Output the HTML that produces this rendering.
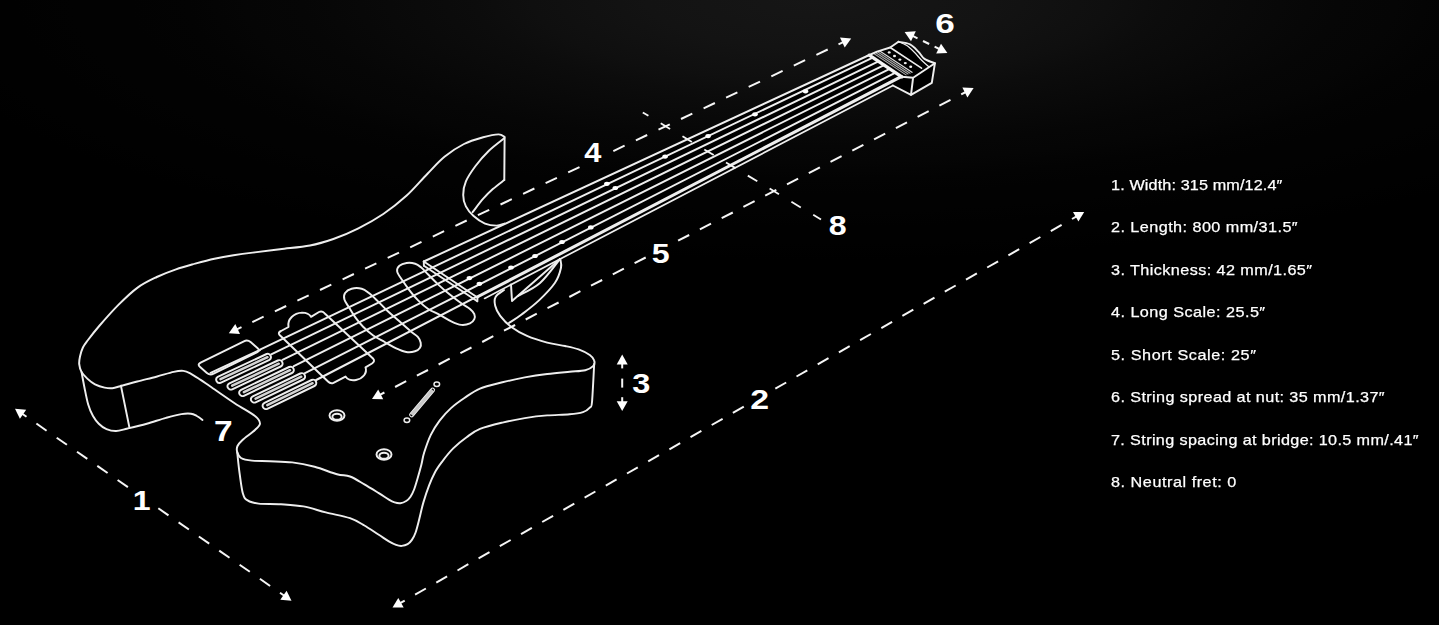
<!DOCTYPE html>
<html><head><meta charset="utf-8"><title>Dimensions</title>
<style>
html,body{margin:0;padding:0;background:#000;}
body{width:1439px;height:625px;overflow:hidden;position:relative;font-family:"Liberation Sans",sans-serif;
background:radial-gradient(ellipse 1150px 325px at 820px 0px,rgb(22,22,22) 0%,rgb(21,21,21) 5%,rgb(20,20,20) 10%,rgb(19,19,19) 15%,rgb(17,17,17) 20%,rgb(15,15,15) 25%,rgb(12,12,12) 30%,rgb(10,10,10) 35%,rgb(8,8,8) 40%,rgb(6,6,6) 45%,rgb(5,5,5) 50%,rgb(3,3,3) 55%,rgb(2,2,2) 60%,rgb(2,2,2) 65%,rgb(1,1,1) 70%,rgb(1,1,1) 75%,rgb(0,0,0) 80%,rgb(0,0,0) 85%,rgb(0,0,0) 90%,rgb(0,0,0) 95%,rgb(0,0,0) 100%);}
svg{position:absolute;left:0;top:0;}
.num{position:absolute;color:#fff;font-weight:bold;font-size:27px;line-height:27px;width:40px;margin-left:-20px;margin-top:-14px;text-align:center;transform:scaleX(1.1);}
.leg{position:absolute;left:1111px;color:#fff;-webkit-text-stroke:0.25px #fff;font-size:15px;line-height:20px;white-space:nowrap;transform:scaleX(1.08);transform-origin:0 50%;}
</style></head><body>
<svg width="1439" height="625" viewBox="0 0 1439 625">
<defs><filter id="b" x="-5%" y="-5%" width="110%" height="110%"><feGaussianBlur stdDeviation="0.42"/></filter></defs>
<g filter="url(#b)">
<g fill="none" stroke="#eeeeee" stroke-width="1.95" stroke-linecap="round" stroke-linejoin="round">
<path d="M423.75 261.5 L867.2 56 L877 51.6 L890.2 47.5 L898.5 41.8 L912 45 L924.5 58.5 L934.9 63.3 L931.8 82.9 L911 94.8 L892.9 85.5 L484.6 298.4 L477 300.5 L423.75 265Z" fill="#000" stroke="none"/>
<path d="M504.5 137.0 C503.5 136.6 502.1 134.3 498.5 134.4 C494.9 134.5 488.9 135.7 483.1 137.3 C477.4 138.9 470.4 140.8 464.0 144.0 C457.6 147.2 450.9 151.6 444.8 156.5 C438.7 161.4 433.9 167.1 427.5 173.7 C421.1 180.2 413.8 189.1 406.4 195.8 C399.0 202.5 391.3 208.6 383.3 214.0 C375.3 219.4 366.7 224.2 358.4 228.4 C350.1 232.6 341.5 236.2 333.4 239.0 C325.3 241.8 318.9 243.8 310.0 245.5 C301.1 247.2 289.6 248.0 280.0 249.2 C270.4 250.4 260.4 251.6 252.7 252.6 C244.9 253.6 239.9 254.3 233.5 255.3 C227.1 256.3 220.8 257.4 214.4 258.8 C208.0 260.2 201.6 261.9 195.2 263.6 C188.8 265.4 182.4 267.1 176.0 269.3 C169.6 271.5 163.2 273.9 156.8 277.0 C150.4 280.1 144.0 283.0 137.6 287.6 C131.2 292.2 124.8 298.5 118.4 304.9 C112.0 311.3 104.3 320.1 99.2 326.0 C94.1 331.9 90.7 336.4 88.0 340.0 C85.3 343.6 84.2 344.8 82.9 347.5 C81.6 350.2 80.6 353.7 80.0 356.5 C79.4 359.3 79.0 361.6 79.2 364.2 C79.5 366.8 80.2 369.5 81.5 371.9 C82.8 374.3 85.0 376.5 87.3 378.6 C89.5 380.7 92.1 382.8 95.0 384.3 C97.9 385.8 101.7 387.0 104.6 387.6 C107.5 388.2 109.4 388.5 112.3 388.2 C115.2 387.9 117.8 386.8 121.9 385.7 C126.1 384.6 131.4 383.0 137.2 381.5 C142.9 380.0 150.3 378.3 156.4 376.7 C162.5 375.1 169.2 372.9 173.7 371.9 C178.2 370.9 180.4 370.6 183.3 370.9 C186.2 371.2 188.1 372.3 191.0 373.8 C193.9 375.3 197.4 377.8 200.6 379.9 C203.8 382.0 204.3 382.4 210.0 386.3 C215.7 390.2 227.5 398.6 235.0 403.5 C242.5 408.4 250.8 412.7 255.0 416.0 C259.2 419.3 260.0 421.2 260.0 423.5 C260.0 425.8 257.9 427.2 255.0 430.0 C252.1 432.8 245.4 437.3 242.5 440.0 C239.6 442.7 238.4 444.0 237.5 446.0 C236.6 448.0 236.6 450.0 237.2 452.0 C237.8 454.0 238.6 456.6 241.0 458.0 C243.4 459.4 247.1 460.1 251.9 460.6 C256.7 461.1 263.1 460.9 269.8 461.2 C276.5 461.5 284.7 461.5 292.2 462.4 C299.7 463.3 307.1 464.8 314.6 466.8 C322.1 468.8 331.1 472.7 337.0 474.3 C342.9 475.9 345.4 474.8 350.0 476.5 C354.6 478.2 359.6 481.6 364.4 484.4 C369.2 487.2 374.7 490.6 378.8 493.1 C382.9 495.6 386.3 498.1 388.9 499.6 C391.5 501.2 392.7 501.8 394.6 502.4 C396.5 503.0 398.5 503.4 400.4 503.2 C402.3 503.0 404.5 502.1 406.2 501.0 C407.9 499.9 409.2 498.6 410.5 496.7 C411.8 494.8 412.9 492.6 414.1 489.5 C415.3 486.4 416.5 482.1 417.7 478.0 C418.9 473.9 420.2 469.2 421.3 465.0 C422.4 460.8 422.5 457.8 424.1 452.8 C425.7 447.8 428.2 440.3 430.8 434.9 C433.4 429.5 436.4 424.9 439.8 420.4 C443.2 415.9 446.9 411.8 451.0 408.1 C455.1 404.4 459.6 401.2 464.4 398.0 C469.2 394.8 473.7 391.2 480.0 388.6 C486.3 386.0 494.9 384.2 502.4 382.3 C509.9 380.4 517.3 378.8 524.8 377.4 C532.3 376.0 539.7 374.9 547.2 374.0 C554.7 373.1 563.2 372.4 569.6 371.8 C576.0 371.2 581.4 371.1 585.3 370.2 C589.2 369.3 591.6 367.8 593.1 366.2 C594.6 364.6 594.8 362.5 594.2 360.6 C593.7 358.7 592.4 356.9 589.8 355.0 C587.2 353.1 582.7 350.9 578.6 349.4 C574.5 347.9 570.3 347.1 565.1 346.0 C559.9 344.9 553.6 344.3 547.2 342.6 C540.9 340.9 533.0 338.5 527.0 335.9 C521.0 333.3 515.9 330.4 511.4 327.0 C506.9 323.6 502.9 319.4 500.2 315.8 C497.5 312.2 495.9 308.9 495.2 305.7 C494.4 302.5 494.2 299.3 495.7 296.7 C497.2 294.1 502.6 291.1 504.0 290.0"/>
<path d="M504.3 138.2 C501.7 140.3 493.7 146.1 488.9 150.7 C484.1 155.3 479.3 160.9 475.5 166.0 C471.7 171.1 467.9 176.6 465.9 181.4 C463.8 186.2 463.2 190.7 463.2 194.9 C463.2 199.1 464.2 202.9 465.9 206.4 C467.6 209.9 470.4 213.1 473.6 216.0 C476.8 218.9 481.2 222.0 485.0 223.6 C488.8 225.2 493.4 225.6 496.6 225.6 C499.8 225.6 503.0 223.9 504.3 223.6"/>
<path d="M504.6 137.5 L504.3 180.0"/>
<path d="M504.3 180.0 C502.4 181.5 496.3 186.0 492.8 189.1 C489.3 192.2 486.6 194.9 483.2 198.7 C479.8 202.5 474.4 209.9 472.6 212.1"/>
<path d="M81.5 371.9 C82.0 374.4 83.3 381.8 84.4 387.2 C85.5 392.6 86.8 399.7 88.2 404.5 C89.6 409.3 91.2 412.8 93.0 416.0 C94.8 419.2 96.5 421.5 98.8 423.7 C101.0 425.9 103.6 427.9 106.5 429.1 C109.4 430.3 112.6 431.1 116.1 431.0 C119.6 430.9 122.5 429.7 127.6 428.5 C132.7 427.3 140.4 425.5 146.8 423.7 C153.2 421.9 160.2 419.5 166.0 417.9 C171.8 416.3 177.2 414.8 181.4 414.1 C185.6 413.4 188.4 413.4 191.0 413.7 C193.6 414.0 194.9 415.0 196.8 416.0 C198.7 417.0 201.6 419.2 202.5 419.9"/>
<path d="M120.9 385.6 L129.5 427.9"/>
<path d="M237.2 452.0 C237.6 455.6 238.6 466.5 239.6 473.4 C240.6 480.3 241.6 489.1 242.9 493.6 C244.2 498.1 245.0 498.7 247.6 500.4 C250.2 502.1 253.0 503.0 258.6 503.6 C264.2 504.2 273.5 503.7 281.0 504.2 C288.5 504.7 295.9 505.0 303.4 506.4 C310.9 507.8 318.0 510.4 325.8 512.4 C333.6 514.4 343.6 516.0 350.0 518.2 C356.4 520.4 359.6 522.7 364.4 525.5 C369.2 528.3 374.7 532.2 378.8 534.8 C382.9 537.4 386.0 539.6 388.9 541.3 C391.8 543.0 394.0 544.1 396.1 544.9 C398.2 545.7 399.9 546.0 401.8 545.9 C403.7 545.8 405.9 545.2 407.6 544.2 C409.3 543.2 410.6 541.8 411.9 539.9 C413.2 538.0 414.3 536.1 415.5 532.7 C416.7 529.3 417.8 524.8 419.1 519.7 C420.4 514.7 421.7 508.1 423.4 502.4 C425.1 496.6 427.3 490.2 429.2 485.2 C431.1 480.2 432.9 476.1 435.0 472.2 C437.1 468.3 439.0 465.8 442.0 461.8 C445.0 457.8 449.1 452.5 453.2 448.4 C457.3 444.3 462.1 440.4 466.6 437.2 C471.1 433.9 474.0 431.3 480.0 428.9 C486.0 426.5 494.9 424.4 502.4 422.6 C509.9 420.8 517.3 419.3 524.8 418.1 C532.3 416.9 539.7 416.0 547.2 415.4 C554.7 414.8 563.6 414.9 569.6 414.3 C575.6 413.8 579.6 413.2 583.0 412.1 C586.4 411.0 588.3 409.3 589.8 407.6 C591.3 405.9 591.3 409.3 592.0 402.0 C592.7 394.7 593.8 370.3 594.2 364.0"/>
<path d="M560.3 259.0 C560.4 260.5 561.9 263.8 561.0 267.8 C560.1 271.8 558.7 277.4 555.0 282.8 C551.3 288.2 544.6 295.1 539.0 300.4 C533.4 305.7 526.6 310.7 521.6 314.5 C516.6 318.3 511.1 321.6 509.0 323.0"/>
<path d="M511.0 284.5 L512.0 301.0 L560.0 259.0"/>
<path d="M518.0 296.0 C521.7 293.8 533.0 289.2 540.0 283.0 C547.0 276.8 556.7 263.0 560.0 259.0"/>
<path d="M423.8 261.5 L867.2 56.0"/>
<path d="M477.5 297.5 L902.5 76.6" stroke-width="1.9"/>
<path d="M484.6 298.4 L892.9 85.5" stroke-width="1.7"/>
<path d="M423.8 261.5 L477.5 297.5"/>
<path d="M423.9 265.8 L477.3 301.2"/>
<path d="M423.8 261.5 L423.9 265.8"/>
<path d="M477.5 297.5 L477.3 301.2"/>
<path d="M260.0 349.6 L872.8 57.6"/>
<path d="M271.2 354.3 L878.5 61.4"/>
<path d="M282.5 359.8 L884.1 65.1"/>
<path d="M293.8 366.2 L889.7 68.8"/>
<path d="M305.0 373.2 L895.5 72.6"/>
<path d="M316.2 380.0 L900.9 76.2" stroke-width="2.0"/>
<path d="M869.2 55.2 L901.8 76.8" stroke-width="3.4" stroke="#f4f4f4"/>
<path d="M873.8 53.5 L906.1 74.9" stroke-width="1.1" stroke="#a8a8a8"/>
<path d="M875.9 52.7 L908.1 74.0" stroke-width="1.1" stroke="#a8a8a8"/>
<path d="M878.0 52.0 L910.1 73.2" stroke-width="1.1" stroke="#a8a8a8"/>
<path d="M880.1 51.2 L912.0 72.3" stroke-width="1.2" stroke="#dcdcdc"/>
<path d="M890.2 47.5 L921.5 68.2" stroke-width="1.6"/>
<path d="M867.2 56.0 L877.0 51.6 L890.2 47.5 L898.5 41.8"/>
<path d="M898.5 41.8 C900.4 42.2 906.7 42.8 910.0 44.4 C913.3 46.0 915.9 49.2 918.3 51.6 C920.7 54.0 921.7 57.0 924.5 58.9 C927.3 60.8 933.2 62.5 934.9 63.2"/>
<path d="M898.5 41.8 C899.9 42.4 904.2 43.9 906.8 45.6 C909.4 47.3 911.7 49.6 914.1 52.0 C916.5 54.4 919.0 57.6 921.4 60.0 C923.8 62.4 927.3 65.4 928.5 66.5" stroke-width="1.2"/>
<path d="M901.8 76.8 L913.1 77.7 L934.9 63.3 L931.8 82.9 L911.0 94.8 L913.1 77.7"/>
<path d="M911.0 94.8 L892.9 85.5"/>
<path d="M200.1 367.1 Q197.0 364.5 200.6 362.7 L243.9 341.3 Q247.5 339.5 250.6 342.1 L257.4 347.9 Q260.5 350.5 256.9 352.3 L213.6 373.7 Q210.0 375.5 206.9 372.9 Z"/>
<path d="M210.6 372.8 L260.0 350.0"/>
<path d="M220.5 382.8 L269.4 359.9 A3.30 3.30 0 0 0 266.6 354.0 L217.7 376.9 A3.30 3.30 0 0 0 220.5 382.8 Z"/>
<path d="M220.5 379.2 L267.5 357.2" stroke-width="2.5" stroke="#d4d4d4"/>
<path d="M232.2 389.3 L280.7 366.5 A3.30 3.30 0 0 0 277.8 360.5 L229.4 383.3 A3.30 3.30 0 0 0 232.2 389.3 Z"/>
<path d="M232.2 385.7 L278.8 363.7" stroke-width="2.5" stroke="#d4d4d4"/>
<path d="M243.9 395.8 L291.9 373.0 A3.30 3.30 0 0 0 289.1 367.0 L241.1 389.8 A3.30 3.30 0 0 0 243.9 395.8 Z"/>
<path d="M243.9 392.2 L290.0 370.2" stroke-width="2.5" stroke="#d4d4d4"/>
<path d="M255.6 402.3 L303.2 379.5 A3.30 3.30 0 0 0 300.3 373.5 L252.8 396.3 A3.30 3.30 0 0 0 255.6 402.3 Z"/>
<path d="M255.6 398.7 L301.3 376.7" stroke-width="2.5" stroke="#d4d4d4"/>
<path d="M267.3 408.8 L314.4 386.0 A3.30 3.30 0 0 0 311.6 380.0 L264.5 402.8 A3.30 3.30 0 0 0 267.3 408.8 Z"/>
<path d="M267.3 405.2 L312.6 383.2" stroke-width="2.5" stroke="#d4d4d4"/>
<path d="M281 331 L288.5 327 C287 319 294 313 302 312.6 C307 312.6 310 315 311 316.8 L319 312 Q322 310.5 324.5 313.2 L373 358.5 Q375.5 361 372 363.5 L365.5 367.3 C367.5 373 363 378.5 356 380 C351 381 347 379 345.5 376.6 L333.5 382.8 Q330.5 384.2 328 381.5 L279.6 335 Q277.5 332.7 281 331Z"/>
<path d="M344.4 299.5 C343.7 297.0 343.9 294.8 345.1 293.0 C346.3 291.2 348.8 289.4 351.6 288.7 C354.4 288.0 358.8 288.0 361.7 288.7 C364.6 289.4 366.3 291.0 368.9 293.0 C371.5 295.0 374.4 297.9 377.5 300.9 C380.6 303.9 384.0 307.6 387.6 311.0 C391.2 314.4 395.3 317.7 399.1 321.1 C402.9 324.5 407.5 328.6 410.6 331.2 C413.7 333.8 416.1 335.0 417.8 336.9 C419.5 338.8 420.3 340.9 420.7 342.7 C421.1 344.5 420.9 346.3 420.0 347.7 C419.1 349.1 417.3 350.6 415.0 351.3 C412.7 352.0 409.4 352.5 406.3 352.0 C403.2 351.5 399.8 350.1 396.2 348.4 C392.6 346.7 388.5 344.1 384.7 342.0 C380.9 339.9 376.8 338.0 373.2 335.5 C369.6 333.0 366.0 329.7 363.1 326.8 C360.2 323.9 358.2 321.3 355.9 318.2 C353.6 315.1 351.3 311.2 349.4 308.1 C347.5 305.0 345.1 302.0 344.4 299.5Z"/>
<path d="M397.2 271.6 C396.7 269.2 397.8 267.2 399.4 265.8 C401.0 264.4 404.0 263.4 406.6 263.0 C409.2 262.6 412.8 263.0 415.2 263.7 C417.6 264.4 418.8 265.5 421.0 267.3 C423.2 269.1 425.3 271.6 428.2 274.5 C431.1 277.4 434.7 281.2 438.3 284.6 C441.9 288.0 446.0 291.5 449.8 294.6 C453.6 297.7 457.9 300.9 461.3 303.3 C464.7 305.7 467.8 307.2 470.0 309.0 C472.2 310.8 473.6 312.4 474.3 314.1 C475.0 315.8 475.0 317.6 474.3 319.1 C473.6 320.7 472.2 322.4 470.0 323.4 C467.8 324.4 464.4 325.2 461.3 324.9 C458.2 324.5 454.8 323.0 451.2 321.3 C447.6 319.6 443.5 316.9 439.7 314.8 C435.9 312.8 431.8 311.4 428.2 309.0 C424.6 306.6 421.2 303.5 418.1 300.4 C415.0 297.3 412.1 293.7 409.5 290.3 C406.9 286.9 404.4 283.3 402.3 280.2 C400.2 277.1 397.7 274.0 397.2 271.6Z"/>
<ellipse cx="337.0" cy="415.5" rx="7.5" ry="5.2"/><ellipse cx="337.0" cy="416.8" rx="4.6" ry="3"/><ellipse cx="384.0" cy="454.5" rx="7.5" ry="5.2"/><ellipse cx="384.0" cy="455.8" rx="4.6" ry="3"/><path d="M411.6 414.9 L432.6 390" stroke="#c8c8c8" stroke-width="3.4" stroke-linecap="butt"/><path d="M413.1 416.1 L434.1 391.2 A1.90 1.90 0 0 0 431.1 388.8 L410.1 413.7 A1.90 1.90 0 0 0 413.1 416.1 Z" stroke-width="1.1"/><ellipse cx="406.9" cy="420.3" rx="2.8" ry="2.2" stroke-width="1.5"/><ellipse cx="436.8" cy="384.2" rx="2.8" ry="2.2" stroke-width="1.5"/><ellipse cx="889.2" cy="52.4" rx="1.5" ry="1.2" fill="#f0f0f0" stroke="none"/><ellipse cx="894.5" cy="56.0" rx="1.5" ry="1.2" fill="#f0f0f0" stroke="none"/><ellipse cx="899.9" cy="59.6" rx="1.5" ry="1.2" fill="#f0f0f0" stroke="none"/><ellipse cx="905.3" cy="63.1" rx="1.5" ry="1.2" fill="#f0f0f0" stroke="none"/><ellipse cx="910.7" cy="66.7" rx="1.5" ry="1.2" fill="#f0f0f0" stroke="none"/>
</g>
<g fill="#ffffff" stroke="none"><ellipse cx="469.4" cy="278.1" rx="2.8" ry="2.1"/><ellipse cx="479.4" cy="283.8" rx="2.8" ry="2.1"/><ellipse cx="511.0" cy="267.5" rx="2.8" ry="2.1"/><ellipse cx="535.0" cy="256.0" rx="2.8" ry="2.1"/><ellipse cx="562.0" cy="242.0" rx="2.8" ry="2.1"/><ellipse cx="590.8" cy="227.4" rx="2.8" ry="2.1"/><ellipse cx="606.9" cy="183.8" rx="2.8" ry="2.1"/><ellipse cx="615.3" cy="188.0" rx="2.8" ry="2.1"/><ellipse cx="665.1" cy="156.6" rx="2.8" ry="2.1"/><ellipse cx="708.1" cy="136.1" rx="2.8" ry="2.1"/><ellipse cx="755.0" cy="114.3" rx="2.8" ry="2.1"/><ellipse cx="805.5" cy="91.3" rx="2.8" ry="2.1"/></g>
<g fill="none" stroke="#f6f6f6" stroke-linecap="butt"><path d="M22.2 413.7 L26.5 416.7" stroke-width="2.0"/><path d="M280.0 592.8 L284.3 595.8" stroke-width="2.0"/><path d="M36.4 423.5 L46.6 430.7" stroke-width="2.0"/><path d="M56.7 437.7 L66.9 444.8" stroke-width="2.0"/><path d="M77.0 451.8 L87.3 458.9" stroke-width="2.0"/><path d="M97.3 465.9 L107.6 473.0" stroke-width="2.0"/><path d="M117.6 480.0 L127.9 487.1" stroke-width="2.0"/><path d="M158.3 508.2 L168.5 515.4" stroke-width="2.0"/><path d="M178.6 522.4 L188.9 529.5" stroke-width="2.0"/><path d="M198.9 536.5 L209.2 543.6" stroke-width="2.0"/><path d="M219.2 550.6 L229.5 557.7" stroke-width="2.0"/><path d="M239.6 564.7 L249.8 571.8" stroke-width="2.0"/><path d="M259.9 578.8 L270.1 586.0" stroke-width="2.0"/><path d="M400.1 603.2 L404.7 600.6" stroke-width="2.0"/><path d="M1072.0 219.0 L1076.6 216.4" stroke-width="2.0"/><path d="M415.1 594.7 L425.9 588.5" stroke-width="2.0"/><path d="M436.3 582.6 L447.1 576.4" stroke-width="2.0"/><path d="M457.5 570.5 L468.3 564.2" stroke-width="2.0"/><path d="M478.6 558.3 L489.5 552.1" stroke-width="2.0"/><path d="M499.8 546.2 L510.7 540.0" stroke-width="2.0"/><path d="M521.0 534.1 L531.9 527.9" stroke-width="2.0"/><path d="M542.2 522.0 L553.1 515.8" stroke-width="2.0"/><path d="M563.4 509.9 L574.3 503.7" stroke-width="2.0"/><path d="M584.6 497.7 L595.4 491.5" stroke-width="2.0"/><path d="M605.8 485.6 L616.6 479.4" stroke-width="2.0"/><path d="M627.0 473.5 L637.8 467.3" stroke-width="2.0"/><path d="M648.2 461.4 L659.0 455.2" stroke-width="2.0"/><path d="M669.4 449.3 L680.2 443.1" stroke-width="2.0"/><path d="M690.5 437.1 L701.4 430.9" stroke-width="2.0"/><path d="M711.7 425.0 L722.6 418.8" stroke-width="2.0"/><path d="M732.9 412.9 L743.8 406.7" stroke-width="2.0"/><path d="M775.3 388.7 L786.2 382.5" stroke-width="2.0"/><path d="M796.5 376.5 L807.3 370.3" stroke-width="2.0"/><path d="M817.7 364.4 L828.5 358.2" stroke-width="2.0"/><path d="M838.9 352.3 L849.7 346.1" stroke-width="2.0"/><path d="M860.1 340.2 L870.9 334.0" stroke-width="2.0"/><path d="M881.3 328.1 L892.1 321.9" stroke-width="2.0"/><path d="M902.4 315.9 L913.3 309.7" stroke-width="2.0"/><path d="M923.6 303.8 L934.5 297.6" stroke-width="2.0"/><path d="M944.8 291.7 L955.7 285.5" stroke-width="2.0"/><path d="M966.0 279.6 L976.9 273.4" stroke-width="2.0"/><path d="M987.2 267.5 L998.1 261.3" stroke-width="2.0"/><path d="M1008.4 255.4 L1019.2 249.1" stroke-width="2.0"/><path d="M1029.6 243.2 L1040.4 237.0" stroke-width="2.0"/><path d="M1050.8 231.1 L1061.6 224.9" stroke-width="2.0"/><path d="M236.8 329.4 L241.5 327.2" stroke-width="2.0"/><path d="M838.5 44.4 L843.2 42.2" stroke-width="2.0"/><path d="M252.3 322.1 L263.6 316.7" stroke-width="2.0"/><path d="M274.9 311.4 L286.2 306.0" stroke-width="2.0"/><path d="M297.4 300.7 L308.7 295.3" stroke-width="2.0"/><path d="M320.0 290.0 L331.3 284.7" stroke-width="2.0"/><path d="M342.6 279.3 L353.9 274.0" stroke-width="2.0"/><path d="M365.1 268.6 L376.4 263.3" stroke-width="2.0"/><path d="M387.7 257.9 L399.0 252.6" stroke-width="2.0"/><path d="M410.2 247.3 L421.5 241.9" stroke-width="2.0"/><path d="M432.8 236.6 L444.1 231.2" stroke-width="2.0"/><path d="M455.4 225.9 L466.7 220.5" stroke-width="2.0"/><path d="M477.9 215.2 L489.2 209.8" stroke-width="2.0"/><path d="M500.5 204.5 L511.8 199.2" stroke-width="2.0"/><path d="M523.1 193.8 L534.4 188.5" stroke-width="2.0"/><path d="M545.6 183.1 L556.9 177.8" stroke-width="2.0"/><path d="M568.2 172.4 L579.5 167.1" stroke-width="2.0"/><path d="M613.3 151.1 L624.6 145.7" stroke-width="2.0"/><path d="M635.9 140.4 L647.2 135.0" stroke-width="2.0"/><path d="M658.5 129.7 L669.8 124.3" stroke-width="2.0"/><path d="M681.0 119.0 L692.3 113.7" stroke-width="2.0"/><path d="M703.6 108.3 L714.9 103.0" stroke-width="2.0"/><path d="M726.1 97.6 L737.4 92.3" stroke-width="2.0"/><path d="M748.7 86.9 L760.0 81.6" stroke-width="2.0"/><path d="M771.3 76.3 L782.6 70.9" stroke-width="2.0"/><path d="M793.8 65.6 L805.1 60.2" stroke-width="2.0"/><path d="M816.4 54.9 L827.7 49.5" stroke-width="2.0"/><path d="M379.8 394.9 L384.4 392.5" stroke-width="2.0"/><path d="M961.2 94.4 L965.8 92.0" stroke-width="2.0"/><path d="M395.1 387.0 L406.2 381.2" stroke-width="2.0"/><path d="M416.9 375.7 L428.0 370.0" stroke-width="2.0"/><path d="M438.6 364.5 L449.7 358.7" stroke-width="2.0"/><path d="M460.4 353.2 L471.5 347.5" stroke-width="2.0"/><path d="M482.2 342.0 L493.3 336.2" stroke-width="2.0"/><path d="M504.0 330.7 L515.1 325.0" stroke-width="2.0"/><path d="M525.7 319.5 L536.8 313.7" stroke-width="2.0"/><path d="M547.5 308.2 L558.6 302.5" stroke-width="2.0"/><path d="M569.3 297.0 L580.4 291.2" stroke-width="2.0"/><path d="M591.0 285.7 L602.2 280.0" stroke-width="2.0"/><path d="M612.8 274.4 L623.9 268.7" stroke-width="2.0"/><path d="M634.6 263.2 L645.7 257.5" stroke-width="2.0"/><path d="M678.1 240.7 L689.2 235.0" stroke-width="2.0"/><path d="M699.9 229.4 L711.0 223.7" stroke-width="2.0"/><path d="M721.7 218.2 L732.8 212.5" stroke-width="2.0"/><path d="M743.4 206.9 L754.6 201.2" stroke-width="2.0"/><path d="M765.2 195.7 L776.3 189.9" stroke-width="2.0"/><path d="M787.0 184.4 L798.1 178.7" stroke-width="2.0"/><path d="M808.8 173.2 L819.9 167.4" stroke-width="2.0"/><path d="M830.5 161.9 L841.6 156.2" stroke-width="2.0"/><path d="M852.3 150.7 L863.4 144.9" stroke-width="2.0"/><path d="M874.1 139.4 L885.2 133.7" stroke-width="2.0"/><path d="M895.9 128.2 L907.0 122.4" stroke-width="2.0"/><path d="M917.6 116.9 L928.7 111.2" stroke-width="2.0"/><path d="M939.4 105.7 L950.5 99.9" stroke-width="2.0"/><path d="M622.2 363.6 L622.2 368.4" stroke-width="2.0"/><path d="M622.2 378.6 L622.2 387.6" stroke-width="2.0"/><path d="M622.2 397.2 L622.2 402.0" stroke-width="2.0"/><path d="M912.7 35.9 L917.5 38.3" stroke-width="2.0"/><path d="M923.0 41.0 L929.2 44.0" stroke-width="2.0"/><path d="M934.6 46.7 L939.3 49.0" stroke-width="2.0"/><path d="M642.8 112.5 L648.4 115.8" stroke-width="1.8"/><path d="M660.7 123.3 L670.1 128.9" stroke-width="1.8"/><path d="M682.5 136.3 L691.9 142.0" stroke-width="1.8"/><path d="M704.3 149.4 L713.7 155.1" stroke-width="1.8"/><path d="M726.0 162.5 L735.5 168.1" stroke-width="1.8"/><path d="M747.8 175.6 L757.3 181.2" stroke-width="1.8"/><path d="M769.6 188.6 L779.0 194.3" stroke-width="1.8"/><path d="M791.4 201.7 L800.8 207.4" stroke-width="1.8"/><path d="M813.2 214.8 L821.0 219.5" stroke-width="1.8"/></g>
<g fill="#ffffff" stroke="none"><polygon points="15.0,408.7 26.2,409.8 19.9,418.8"/><polygon points="291.5,600.8 280.3,599.7 286.6,590.7"/><polygon points="392.5,607.6 398.3,598.0 403.7,607.5"/><polygon points="1084.2,212.0 1078.4,221.6 1073.0,212.1"/><polygon points="228.8,333.2 235.3,324.0 240.0,334.0"/><polygon points="851.2,38.4 844.7,47.6 840.0,37.6"/><polygon points="372.0,398.9 378.2,389.5 383.2,399.3"/><polygon points="973.6,88.0 967.4,97.4 962.4,87.6"/><polygon points="622.2,354.6 627.7,364.4 616.7,364.4"/><polygon points="622.2,411.0 616.7,401.2 627.7,401.2"/><polygon points="904.6,31.9 915.8,31.3 911.0,41.2"/><polygon points="947.4,53.0 936.2,53.6 941.0,43.7"/></g>
</g>
<g fill="#fff" stroke="none" font-family="'Liberation Sans', sans-serif" font-weight="bold">
<text transform="translate(141.6 510.3) scale(1.15 1)" x="0" y="0" font-size="27.9" text-anchor="middle">1</text>
<text transform="translate(750.18 408.60) scale(1.231 1)" x="0" y="0" font-size="27.5">2</text>
<text transform="translate(632.15 392.79) scale(1.192 1)" x="0" y="0" font-size="27.3">3</text>
<text transform="translate(584.28 162.40) scale(1.103 1)" x="0" y="0" font-size="27.9">4</text>
<text transform="translate(651.81 262.98) scale(1.162 1)" x="0" y="0" font-size="27.7">5</text>
<text transform="translate(935.21 33.48) scale(1.263 1)" x="0" y="0" font-size="27.8">6</text>
<text transform="translate(214.11 441.30) scale(1.163 1)" x="0" y="0" font-size="28.8">7</text>
<text transform="translate(828.73 235.22) scale(1.141 1)" x="0" y="0" font-size="28.2">8</text>
</g>
</svg>
<div class="leg" style="top:174.8px;letter-spacing:0.114px">1. Width: 315 mm/12.4″</div>
<div class="leg" style="top:217.3px;letter-spacing:0.410px">2. Length: 800 mm/31.5″</div>
<div class="leg" style="top:259.7px;letter-spacing:0.389px">3. Thickness: 42 mm/1.65″</div>
<div class="leg" style="top:302.2px;letter-spacing:0.427px">4. Long Scale: 25.5″</div>
<div class="leg" style="top:344.6px;letter-spacing:0.534px">5. Short Scale: 25″</div>
<div class="leg" style="top:387.1px;letter-spacing:0.368px">6. String spread at nut: 35 mm/1.37″</div>
<div class="leg" style="top:429.6px;letter-spacing:0.336px">7. String spacing at bridge: 10.5 mm/.41″</div>
<div class="leg" style="top:472.0px;letter-spacing:0.497px">8. Neutral fret: 0</div>
</body></html>
